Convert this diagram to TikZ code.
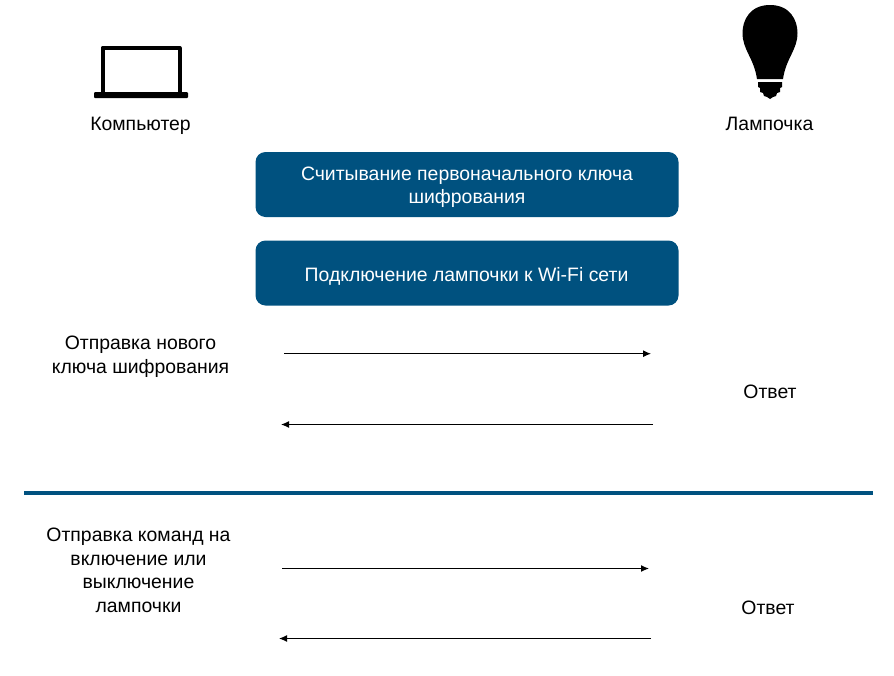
\documentclass[tikz,border=0pt]{standalone}
\usepackage{fontspec}
\setmainfont{Liberation Sans}
\definecolor{navy}{HTML}{00517F}
\usetikzlibrary{arrows.meta}
\tikzset{
  lbl/.style={font=\fontsize{19.4}{23.5}\selectfont,align=center,inner sep=0pt,text=black},
  bartext/.style={text=white,font=\fontsize{19.4}{23.5}\selectfont,align=center,inner sep=0pt},
  bar/.style={fill=navy,draw=none,rounded corners=10pt,minimum width=423pt,minimum height=65pt,inner sep=0pt},
  msg/.style={draw=black,line width=1.1pt,-{Latex[length=8pt,width=7pt]}}
}
\begin{document}
\begin{tikzpicture}[x=1pt,y=-1pt]
\useasboundingbox (0,0) rectangle (894,675);
% laptop
\draw[line width=4pt,line join=round] (102.5,92) -- (102.5,47.7) -- (179.5,47.7) -- (179.5,92);
\fill[rounded corners=1pt] (94,92) rectangle (188,98);
% bulb
\fill (770,5) .. controls (790,5) and (797.5,20) .. (797.5,33)
  .. controls (797.5,50) and (786,58) .. (783,79)
  -- (757,79)
  .. controls (754,58) and (742.5,50) .. (742.5,33)
  .. controls (742.5,20) and (750,5) .. (770,5) -- cycle;
\fill (758,82) -- (782,82) -- (782,87) -- (780,88) -- (780,92) -- (777,93) -- (776,96) -- (773,97) -- (770,99) -- (767,97) -- (764,96) -- (763,93) -- (760,92) -- (760,88) -- (758,87) -- cycle;
\node[lbl] (comp) at (140.5,126) {Компьютер};
\node[lbl] (lamp) at (769.5,124) {Лампочка};
\node[bar] (read) at (467,184.5) {};
\node[bartext] (readt) at (467,187) {Считывание первоначального ключа\\шифрования};
\node[bar] (wifi) at (467,273) {};
\node[bartext] (wifit) at (466.5,276) {Подключение лампочки к Wi-Fi сети};
\node[lbl] (send1) at (140.5,356.5) {Отправка нового\\ключа шифрования};
\node[lbl] (ans1) at (770,391.5) {Ответ};
\node[lbl] (send2) at (138.5,570.5) {Отправка команд на\\включение или\\выключение\\лампочки};
\node[lbl] (ans2) at (768,607.5) {Ответ};
\coordinate (a1) at (284,353.7); \coordinate (b1) at (651,353.7);
\coordinate (b2) at (653,424.5); \coordinate (a2) at (281,424.5);
\coordinate (a3) at (282,568.5); \coordinate (b3) at (649,568.5);
\coordinate (b4) at (651,638.5); \coordinate (a4) at (279,638.5);
\coordinate (d1) at (24,493); \coordinate (d2) at (873,493);
\draw[msg] (a1) -- (b1);
\draw[msg] (b2) -- (a2);
\draw[msg] (a3) -- (b3);
\draw[msg] (b4) -- (a4);
\draw[navy,line width=4pt] (d1) -- (d2);
\end{tikzpicture}
\end{document}
